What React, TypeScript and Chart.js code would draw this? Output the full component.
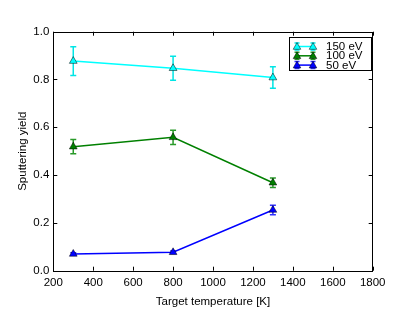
import React, { useEffect, useRef } from "react";
import { Chart, registerables } from "chart.js";

Chart.register(...registerables);

const temperatures = [300, 800, 1300];
const yield150 = [0.877, 0.847, 0.808];
const err150 = [0.06, 0.05, 0.045];
const yield100 = [0.519, 0.558, 0.368];
const err100 = [0.03, 0.03, 0.02];
const yield50 = [0.07, 0.077, 0.254];
const err50 = [0.005, 0.005, 0.02];

const seriesLabels = ["150 eV", "100 eV", "50 eV"];
const seriesColors = ["#00ffff", "#008000", "#0000ff"];
const errorColors = ["#00e5e5", "#2a9a2a", "#3030ff"];
const xTicks = [200, 400, 600, 800, 1000, 1200, 1400, 1600, 1800];
const yTicks = [0, 0.2, 0.4, 0.6, 0.8, 1.0];

const FONT = "'Liberation Sans', Arial, sans-serif";
const FS = 11.5;

function tri(ctx: CanvasRenderingContext2D, x: number, y: number, fill: string) {
  const r = 4;
  ctx.beginPath();
  ctx.moveTo(x, y - r);
  ctx.lineTo(x + r * 0.95, y + r * 0.7);
  ctx.lineTo(x - r * 0.95, y + r * 0.7);
  ctx.closePath();
  ctx.fillStyle = fill;
  ctx.fill();
  ctx.lineWidth = 0.5;
  ctx.strokeStyle = "#000";
  ctx.stroke();
}

const errs = [err150, err100, err50];

const errorBarPlugin = {
  id: "errorBars",
  beforeDatasetsDraw(chart: any) {
    const ctx = chart.ctx;
    const xs = chart.scales.x;
    const ys = chart.scales.y;
    ctx.save();
    chart.data.datasets.forEach((ds: any, i: number) => {
      ctx.strokeStyle = errorColors[i];
      ctx.lineWidth = 1.5;
      ds.data.forEach((pt: any, j: number) => {
        const e = errs[i][j];
        const px = xs.getPixelForValue(pt.x);
        const top = ys.getPixelForValue(pt.y + e);
        const bot = ys.getPixelForValue(pt.y - e);
        ctx.beginPath();
        ctx.moveTo(px, top);
        ctx.lineTo(px, bot);
        ctx.moveTo(px - 3, top);
        ctx.lineTo(px + 3, top);
        ctx.moveTo(px - 3, bot);
        ctx.lineTo(px + 3, bot);
        ctx.stroke();
      });
    });
    ctx.restore();
  },
};

const framePlugin = {
  id: "frame",
  afterDraw(chart: any) {
    const ctx = chart.ctx;
    const { left, right, top, bottom } = chart.chartArea;
    const xs = chart.scales.x;
    const ys = chart.scales.y;
    ctx.save();
    ctx.strokeStyle = "#000";
    ctx.lineWidth = 1;
    ctx.strokeRect(Math.round(left) + 0.5, Math.round(top) + 0.5, Math.round(right - left), Math.round(bottom - top));
    ctx.beginPath();
    const tl = 4;
    xTicks.forEach((v) => {
      const px = Math.round(xs.getPixelForValue(v)) + 0.5;
      ctx.moveTo(px, bottom);
      ctx.lineTo(px, bottom - tl);
      ctx.moveTo(px, top);
      ctx.lineTo(px, top + tl);
    });
    yTicks.forEach((v) => {
      const py = Math.round(ys.getPixelForValue(v)) + 0.5;
      ctx.moveTo(left, py);
      ctx.lineTo(left + tl, py);
      ctx.moveTo(right, py);
      ctx.lineTo(right - tl, py);
    });
    ctx.stroke();

    // legend
    const bx = 289.5, by = 37.5, bw = 82, bh = 33;
    ctx.fillStyle = "#fff";
    ctx.fillRect(bx, by, bw, bh);
    ctx.strokeStyle = "#000";
    ctx.lineWidth = 1;
    ctx.strokeRect(bx, by, bw, bh);
    ctx.font = `${FS}px ${FONT}`;
    ctx.textBaseline = "middle";
    ctx.textAlign = "left";
    seriesLabels.forEach((lab, i) => {
      const cy = 46.5 + i * 9.3;
      ctx.strokeStyle = errorColors[i];
      ctx.lineWidth = 1.5;
      ctx.beginPath();
      [297, 313].forEach((mx) => {
        ctx.moveTo(mx, cy - 3.5);
        ctx.lineTo(mx, cy + 3.5);
        ctx.moveTo(mx - 2.5, cy - 3.5);
        ctx.lineTo(mx + 2.5, cy - 3.5);
        ctx.moveTo(mx - 2.5, cy + 3.5);
        ctx.lineTo(mx + 2.5, cy + 3.5);
      });
      ctx.stroke();
      ctx.strokeStyle = seriesColors[i];
      ctx.beginPath();
      ctx.moveTo(297, cy);
      ctx.lineTo(313, cy);
      ctx.stroke();
      tri(ctx, 297, cy, seriesColors[i]);
      tri(ctx, 313, cy, seriesColors[i]);
      ctx.fillStyle = "#000";
      ctx.fillText(lab, 326, cy + 0.5);
    });
    ctx.restore();
  },
};

export default function App() {
  const ref = useRef<HTMLCanvasElement>(null);
  useEffect(() => {
    if (!ref.current) return;
    const mk = (vals: number[]) => temperatures.map((t, i) => ({ x: t, y: vals[i] }));
    const allY = [yield150, yield100, yield50];
    const chart = new Chart(ref.current, {
      type: "line",
      data: {
        datasets: allY.map((vals, i) => ({
          label: seriesLabels[i],
          data: mk(vals),
          borderColor: seriesColors[i],
          backgroundColor: seriesColors[i],
          borderWidth: 1.5,
          pointStyle: "triangle",
          pointRadius: 4.5,
          pointBorderColor: "#000",
          pointBorderWidth: 0.5,
          pointBackgroundColor: seriesColors[i],
          tension: 0,
          fill: false,
        })),
      },
      options: {
        responsive: false,
        animation: false,
        devicePixelRatio: 1,
        layout: { padding: { left: 0, top: 31.7, right: 42.3, bottom: 0 } },
        plugins: { legend: { display: false }, tooltip: { enabled: false } },
        scales: {
          x: {
            type: "linear",
            min: 200,
            max: 1800,
            afterBuildTicks: (s: any) => {
              s.ticks = xTicks.map((v) => ({ value: v }));
            },
            afterFit: (s: any) => {
              s.height = 41.3;
            },
            grid: { display: false, drawTicks: false },
            border: { display: false },
            ticks: {
              padding: 5,
              color: "#000",
              font: { family: FONT, size: FS },
              callback: (v: any) => String(v),
            },
            title: {
              display: true,
              text: "Target temperature [K]",
              color: "#000",
              font: { family: FONT, size: FS },
              padding: { top: 0, bottom: 3 },
            },
          },
          y: {
            type: "linear",
            min: 0,
            max: 1,
            afterBuildTicks: (s: any) => {
              s.ticks = yTicks.map((v) => ({ value: v }));
            },
            afterFit: (s: any) => {
              s.width = 53.3;
            },
            grid: { display: false, drawTicks: false },
            border: { display: false },
            ticks: {
              padding: 4,
              color: "#000",
              font: { family: FONT, size: FS },
              callback: (v: any) => Number(v).toFixed(1),
            },
            title: {
              display: true,
              text: "Sputtering yield",
              color: "#000",
              font: { family: FONT, size: FS },
              padding: { top: 15.5, bottom: 0 },
            },
          },
        },
      },
      plugins: [errorBarPlugin, framePlugin],
    });
    return () => chart.destroy();
  }, []);
  return (
    <div style={{ position: "absolute", left: 0, top: 0, width: 415, height: 312, background: "#fff" }}>
      <canvas ref={ref} width={415} height={312} style={{ width: 415, height: 312 }} />
    </div>
  );
}
